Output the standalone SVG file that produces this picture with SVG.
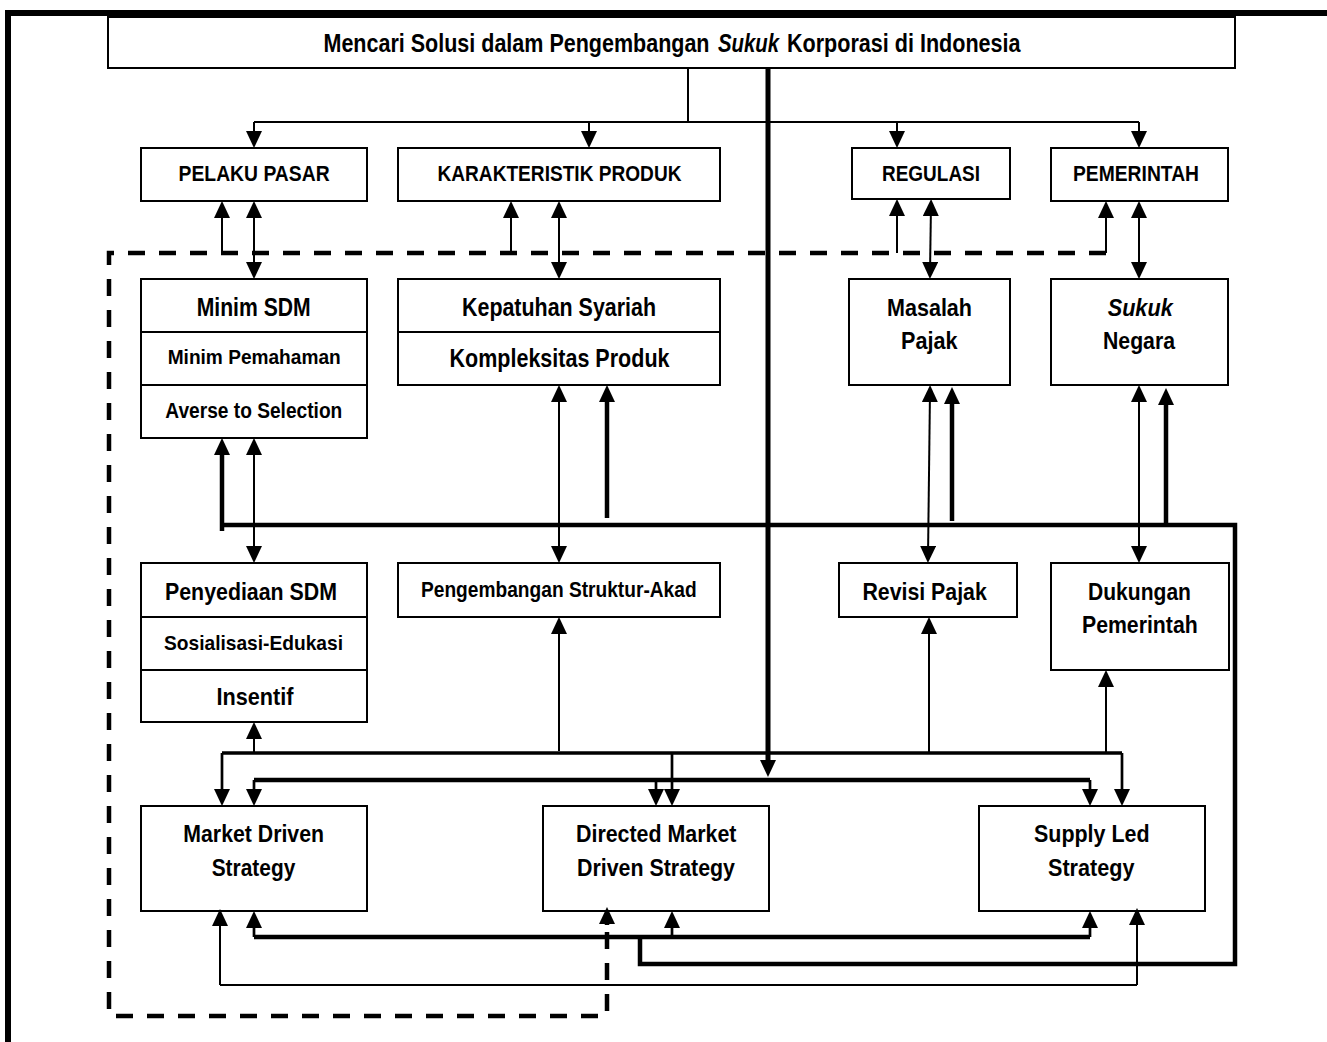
<svg xmlns="http://www.w3.org/2000/svg" width="1327" height="1042" viewBox="0 0 1327 1042">
<defs>
<style>
.box{fill:#fff;stroke:#000;stroke-width:2}
.dv{stroke:#000;stroke-width:2}
.t{font-family:'Liberation Sans Narrow','Liberation Sans',Arial,sans-serif;font-weight:bold;fill:#000}
.s{font-size:21.5px}
.m{font-size:23px}
.l{font-size:25px}
.c{fill:none;stroke:#000;stroke-width:2}
.md{stroke-width:2.7}
.w3{stroke-width:3.5}
.tk{stroke-width:4.5}
.w5{stroke-width:5}
.dash{fill:none;stroke:#000;stroke-width:4.5;stroke-dasharray:17 14}
.a{marker-end:url(#ah)}
.b{marker-start:url(#ah);marker-end:url(#ah)}
</style>
<marker id="ah" viewBox="0 0 17 16" refX="11" refY="8" markerWidth="17" markerHeight="16" markerUnits="userSpaceOnUse" orient="auto-start-reverse">
<path d="M0,0 L17,8 L0,16 z" fill="#000"/>
</marker>
</defs>
<rect width="1327" height="1042" fill="#fff"/>
<g id="frame" fill="none" stroke="#000" stroke-width="6">
<path d="M5,13 H1327"/>
<path d="M8,10 V1042"/>
</g>
<g id="title">
<rect class="box" x="108" y="17" width="1127" height="51"/>
<text class="t l" x="323.5" y="52" textLength="386" lengthAdjust="spacingAndGlyphs">Mencari Solusi dalam Pengembangan</text>
<text class="t l" x="718" y="52" font-style="italic" textLength="61" lengthAdjust="spacingAndGlyphs">Sukuk</text>
<text class="t l" x="787" y="52" textLength="233.5" lengthAdjust="spacingAndGlyphs">Korporasi di Indonesia</text>
</g>
<g id="pelaku-pasar">
<rect class="box" x="141" y="148" width="226" height="53"/>
<text class="t s" x="178.6" y="181" textLength="151" lengthAdjust="spacingAndGlyphs">PELAKU PASAR</text>
</g>
<g id="karakteristik-produk">
<rect class="box" x="398" y="148" width="322" height="53"/>
<text class="t s" x="437.5" y="181" textLength="244" lengthAdjust="spacingAndGlyphs">KARAKTERISTIK PRODUK</text>
</g>
<g id="regulasi">
<rect class="box" x="852" y="148" width="158" height="51"/>
<text class="t s" x="882" y="181" textLength="98" lengthAdjust="spacingAndGlyphs">REGULASI</text>
</g>
<g id="pemerintah">
<rect class="box" x="1051" y="148" width="177" height="53"/>
<text class="t s" x="1073" y="181" textLength="126" lengthAdjust="spacingAndGlyphs">PEMERINTAH</text>
</g>
<g id="minim-sdm">
<rect class="box" x="141" y="279" width="226" height="159"/>
<line class="dv" x1="141" y1="332" x2="367" y2="332"/>
<line class="dv" x1="141" y1="385" x2="367" y2="385"/>
<text class="t" font-size="26" x="196.7" y="316" textLength="114" lengthAdjust="spacingAndGlyphs">Minim SDM</text>
<text class="t" font-size="21" x="167.7" y="364" textLength="173" lengthAdjust="spacingAndGlyphs">Minim Pemahaman</text>
<text class="t" font-size="22" x="165.3" y="417.5" textLength="177" lengthAdjust="spacingAndGlyphs">Averse to Selection</text>
</g>
<g id="kepatuhan-syariah">
<rect class="box" x="398" y="279" width="322" height="106"/>
<line class="dv" x1="398" y1="332" x2="720" y2="332"/>
<text class="t l" x="462" y="316" textLength="194" lengthAdjust="spacingAndGlyphs">Kepatuhan Syariah</text>
<text class="t l" x="449.5" y="367" textLength="220" lengthAdjust="spacingAndGlyphs">Kompleksitas Produk</text>
</g>
<g id="masalah-pajak">
<rect class="box" x="849" y="279" width="161" height="106"/>
<text class="t" font-size="24" x="887" y="316" textLength="85" lengthAdjust="spacingAndGlyphs">Masalah</text>
<text class="t" font-size="24" x="901" y="349" textLength="56.5" lengthAdjust="spacingAndGlyphs">Pajak</text>
</g>
<g id="sukuk-negara">
<rect class="box" x="1051" y="279" width="177" height="106"/>
<text class="t" font-size="24" font-style="italic" x="1107.7" y="316" textLength="65" lengthAdjust="spacingAndGlyphs">Sukuk</text>
<text class="t" font-size="24" x="1103" y="349" textLength="72" lengthAdjust="spacingAndGlyphs">Negara</text>
</g>
<g id="penyediaan-sdm">
<rect class="box" x="141" y="563" width="226" height="159"/>
<line class="dv" x1="141" y1="617" x2="367" y2="617"/>
<line class="dv" x1="141" y1="670" x2="367" y2="670"/>
<text class="t" font-size="23" x="165" y="600" textLength="172" lengthAdjust="spacingAndGlyphs">Penyediaan SDM</text>
<text class="t" font-size="21" x="164" y="649.5" textLength="179" lengthAdjust="spacingAndGlyphs">Sosialisasi-Edukasi</text>
<text class="t" font-size="24" x="216.5" y="705" textLength="77" lengthAdjust="spacingAndGlyphs">Insentif</text>
</g>
<g id="pengembangan-struktur-akad">
<rect class="box" x="398" y="563" width="322" height="54"/>
<text class="t" font-size="21.5" x="421" y="597" textLength="275.6" lengthAdjust="spacingAndGlyphs">Pengembangan Struktur-Akad</text>
</g>
<g id="revisi-pajak">
<rect class="box" x="839" y="563" width="178" height="54"/>
<text class="t m" x="862.4" y="600" textLength="124.4" lengthAdjust="spacingAndGlyphs">Revisi Pajak</text>
</g>
<g id="dukungan-pemerintah">
<rect class="box" x="1051" y="563" width="178" height="107"/>
<text class="t m" x="1088" y="600" textLength="103" lengthAdjust="spacingAndGlyphs">Dukungan</text>
<text class="t m" x="1082" y="633" textLength="115.7" lengthAdjust="spacingAndGlyphs">Pemerintah</text>
</g>
<g id="market-driven-strategy">
<rect class="box" x="141" y="806" width="226" height="105"/>
<text class="t m" x="183.3" y="841.5" textLength="140.7" lengthAdjust="spacingAndGlyphs">Market Driven</text>
<text class="t m" x="211.7" y="876" textLength="83.6" lengthAdjust="spacingAndGlyphs">Strategy</text>
</g>
<g id="directed-market-driven-strategy">
<rect class="box" x="543" y="806" width="226" height="105"/>
<text class="t m" x="576" y="841.5" textLength="160.4" lengthAdjust="spacingAndGlyphs">Directed Market</text>
<text class="t m" x="577" y="876" textLength="158" lengthAdjust="spacingAndGlyphs">Driven Strategy</text>
</g>
<g id="supply-led-strategy">
<rect class="box" x="979" y="806" width="226" height="105"/>
<text class="t m" x="1034" y="841.5" textLength="115.6" lengthAdjust="spacingAndGlyphs">Supply Led</text>
<text class="t m" x="1048" y="876" textLength="86.5" lengthAdjust="spacingAndGlyphs">Strategy</text>
</g>
<g id="connectors">
<path class="dash" d="M1106,253 H109 V1016 H607 V925"/>
<line class="c tk a" x1="607" y1="925" x2="607" y2="913"/>
<path class="c" d="M688,69 V122 M254,122 H1139"/>
<line class="c a" x1="254" y1="122" x2="254" y2="142"/>
<line class="c a" x1="589" y1="122" x2="589" y2="142"/>
<line class="c a" x1="897" y1="122" x2="897" y2="142"/>
<line class="c a" x1="1139" y1="122" x2="1139" y2="142"/>
<line class="c a" x1="222" y1="253" x2="222" y2="207"/>
<line class="c b" x1="254" y1="207" x2="254" y2="273"/>
<line class="c a" x1="511" y1="253" x2="511" y2="207"/>
<line class="c b" x1="559" y1="207" x2="559" y2="273"/>
<line class="c a" x1="897" y1="253" x2="897" y2="205"/>
<line class="c b" x1="931" y1="205" x2="930" y2="273"/>
<line class="c a" x1="1106" y1="253" x2="1106" y2="207"/>
<line class="c b" x1="1139" y1="207" x2="1139" y2="273"/>
<path class="c tk" d="M222,525 H1235 V964 H640 V937"/>
<line class="c tk a" x1="222" y1="531" x2="222" y2="444"/>
<line class="c b" x1="254" y1="444" x2="254" y2="557"/>
<line class="c b" x1="559" y1="391" x2="559" y2="557"/>
<line class="c tk a" x1="607" y1="518" x2="607" y2="391"/>
<line class="c b" x1="930" y1="391" x2="928" y2="557"/>
<line class="c tk a" x1="952" y1="521" x2="952" y2="393"/>
<line class="c b" x1="1139" y1="391" x2="1139" y2="557"/>
<line class="c tk a" x1="1166" y1="525" x2="1166" y2="394"/>
<path class="c w3" d="M222,753 H1122"/>
<line class="c a" x1="254" y1="753" x2="254" y2="728"/>
<line class="c a" x1="559" y1="751" x2="559" y2="623"/>
<line class="c a" x1="929" y1="753" x2="929" y2="623"/>
<line class="c a" x1="1106" y1="753" x2="1106" y2="676"/>
<line class="c md a" x1="222" y1="753" x2="222" y2="800"/>
<line class="c md a" x1="672" y1="753" x2="672" y2="800"/>
<line class="c md a" x1="1122" y1="753" x2="1122" y2="800"/>
<path class="c tk" d="M254,780 H1090"/>
<line class="c md a" x1="254" y1="780" x2="254" y2="800"/>
<line class="c md a" x1="656" y1="780" x2="656" y2="800"/>
<line class="c md a" x1="1090" y1="780" x2="1090" y2="800"/>
<line class="c w5 a" x1="768" y1="69" x2="768" y2="771"/>
<path class="c tk" d="M254,937 H1090"/>
<line class="c md a" x1="254" y1="937" x2="254" y2="917"/>
<line class="c md a" x1="672" y1="937" x2="672" y2="917"/>
<line class="c md a" x1="1090" y1="937" x2="1090" y2="917"/>
<path class="c" d="M220,985 H1137"/>
<line class="c a" x1="220" y1="985" x2="220" y2="915"/>
<line class="c a" x1="1137" y1="985" x2="1137" y2="914"/>
</g>
</svg>
